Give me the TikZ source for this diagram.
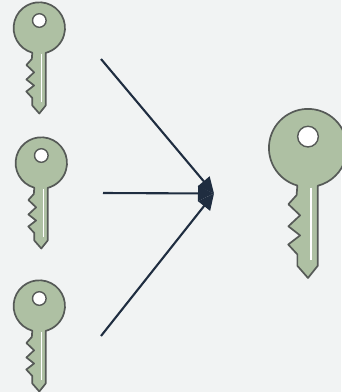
\documentclass[tikz,border=0pt]{standalone}
\usetikzlibrary{arrows.meta}
\definecolor{bgc}{HTML}{F1F3F3}
\definecolor{keyfill}{HTML}{AEC0A3}
\definecolor{keyline}{HTML}{565A57}
\definecolor{arrowc}{HTML}{1F2D40}
\tikzset{
  keypic/.pic={
    \draw[keyline,fill=keyfill,line width=1.7pt,line join=round]
      (-7,24.7) arc[start angle=105.8,end angle=435.6,radius=25.7]
      -- (6.4,77.5) -- (0,85.5) -- (-7,77.5) -- (-7,70) -- (-13,63.5) -- (-5.2,57.5) -- (-12.9,51.5) -- (-5.2,44.3) -- (-12.9,37) -- (-7.5,31) -- cycle;
    \fill[white,draw=keyline,line width=1.4pt] (0,-7.5) circle[radius=6.8];
    \draw[white,line width=1.1pt] (2,26) -- (2,74);
  },
  connector/.style={arrowc,line width=2.1pt,-{Triangle[length=16pt,width=15pt]},shorten >=0pt}
}
\begin{document}
\begin{tikzpicture}[x=1pt,y=-1pt]
\fill[bgc] (0,0) rectangle (341,392);
\useasboundingbox (0,0) rectangle (341,392);
\pic at (39.3,28) {keypic};
\pic at (41.3,163) {keypic};
\pic at (39.3,306) {keypic};
\pic[scale=1.52] at (308,148) {keypic};
\coordinate (s1) at (101,59);
\coordinate (s2) at (103,193);
\coordinate (s3) at (101,336);
\coordinate (t) at (214,193.5);
\draw[connector] (s1) -- (t);
\draw[connector] (s2) -- (t);
\draw[connector] (s3) -- (t);
\end{tikzpicture}
\end{document}
